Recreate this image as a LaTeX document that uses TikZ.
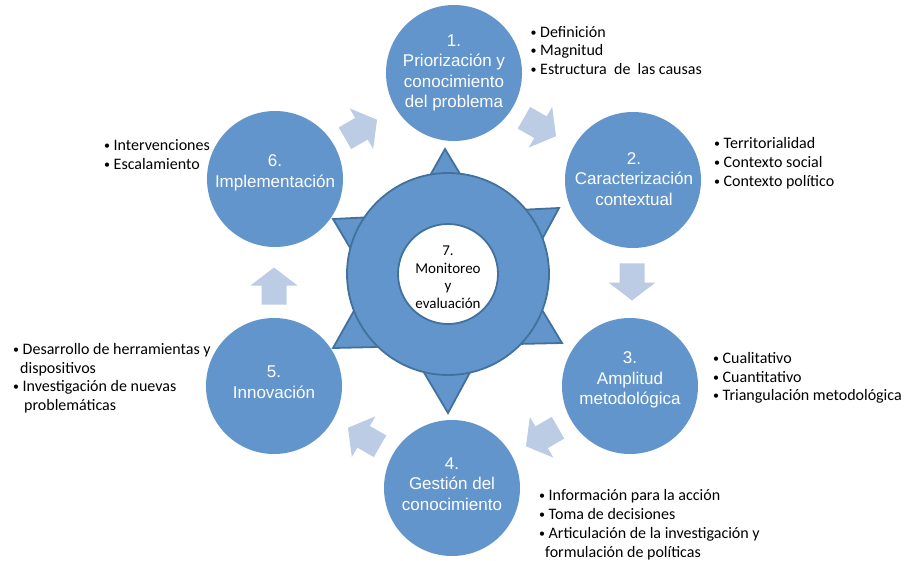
\documentclass[tikz,border=0pt]{standalone}
\usepackage{fontspec}
\setmainfont{Carlito}
\newfontfamily\arialf{Liberation Sans}
\newfontfamily\calf{Carlito}
\definecolor{circblue}{RGB}{98,149,203}
\definecolor{arrowblue}{RGB}{187,204,228}
\definecolor{edgeblue}{RGB}{65,113,156}
\newcommand\bul{\makebox[10.5pt][l]{\hspace*{1pt}\raisebox{1pt}{\fontsize{12}{12}\selectfont •}}}
\begin{document}
\begin{tikzpicture}[x=1pt,y=-1pt,
  bigcirc/.style={circle, fill=circblue, minimum size=136pt, inner sep=0pt},
  ctext/.style={font=\arialf\fontsize{17}{20.5}\selectfont, text=white, align=center, inner sep=0pt},
  btext/.style={font=\calf\fontsize{16}{18.8}\selectfont, text=black, align=left, anchor=north west, inner sep=0pt},
  mtext/.style={font=\calf\fontsize{15}{17.5}\selectfont, text=black, align=center, inner sep=0pt},
  starsty/.style={fill=circblue, draw=edgeblue, line width=1.8pt},
  ringsty/.style={circle, fill=circblue, draw=edgeblue, line width=1.8pt, minimum size=202pt, inner sep=0pt},
  holesty/.style={circle, fill=white, draw=edgeblue, line width=1.8pt, minimum size=100pt, inner sep=0pt},
  barrow/.pic={\fill[arrowblue] (-18.5,-12.5) -- (0.5,-12.5) -- (0.5,-23.5) -- (18.5,0) -- (0.5,23.5) -- (0.5,12.5) -- (-18.5,12.5) -- cycle;}
]
\useasboundingbox (0,0) rectangle (907,561);

% central star and ring
\filldraw[starsty] (445,149) -- (562,343) -- (333,348) -- cycle;
\filldraw[starsty] (448,413) -- (559,208) -- (333,219) -- cycle;
\node[ringsty] (ring) at (448,274) {};
\node[holesty] (hole) at (448,274) {};
\node[mtext] (t7) at (448,277) {7.\\Monitoreo\\y\\evaluación};

% outer circles
\node[bigcirc] (c1) at (454,73) {};
\node[bigcirc] (c2) at (633,180) {};
\node[bigcirc] (c3) at (630,386) {};
\node[bigcirc] (c4) at (452,488) {};
\node[bigcirc] (c5) at (274,386) {};
\node[bigcirc] (c6) at (275,179) {};

\node[ctext] (t1) at (454,73) {1.\\Priorización y\\conocimiento\\del problema};
\node[ctext] (t2) at (634,179) {2.\\Caracterización\\contextual};
\node[ctext] (t3) at (630,380) {3.\\Amplitud\\metodológica};
\node[ctext] (t4) at (452,484) {4.\\Gestión del\\conocimiento};
\node[ctext] (t5) at (274,382) {5.\\Innovación};
\node[ctext] (t6) at (275,173) {6.\\Implementación};

% block arrows
\pic (a12) [rotate=-30] at (540,127) {barrow};
\pic (a23) [rotate=-90] at (632,282) {barrow};
\pic (a34) [rotate=-150] at (542,437) {barrow};
\pic (a45) [rotate=150] at (364,437) {barrow};
\pic (a56) [rotate=90] at (274,286) {barrow};
\pic (a61) [rotate=30] at (361,129) {barrow};

% bullet lists
\node[btext] (b1) at (529.5,23) {\rule{0pt}{14pt}\bul Definición\\\bul Magnitud\\\bul Estructura~~de~~las causas};
\node[btext] (b2) at (713,134.3) {\rule{0pt}{14pt}\bul Territorialidad\\\bul Contexto social\\\bul Contexto político};
\node[btext] (b3) at (712,349) {\rule{0pt}{14pt}\bul Cualitativo\\\bul Cuantitativo\\\bul Triangulación metodológica};
\node[btext] (b4) at (538,486.7) {\rule{0pt}{14pt}\bul Información para la acción\\\bul Toma de decisiones\\\bul Articulación de la investigación y\\\hspace*{7pt}formulación de políticas};
\node[btext] (b5) at (12,340) {\rule{0pt}{14pt}\bul Desarrollo de herramientas y\\\hspace*{8pt}dispositivos\\\bul Investigación de nuevas\\\hspace*{12pt}problemáticas};
\node[btext] (b6) at (103,136.5) {\rule{0pt}{14pt}\bul Intervenciones\\\bul Escalamiento};
\end{tikzpicture}
\end{document}
